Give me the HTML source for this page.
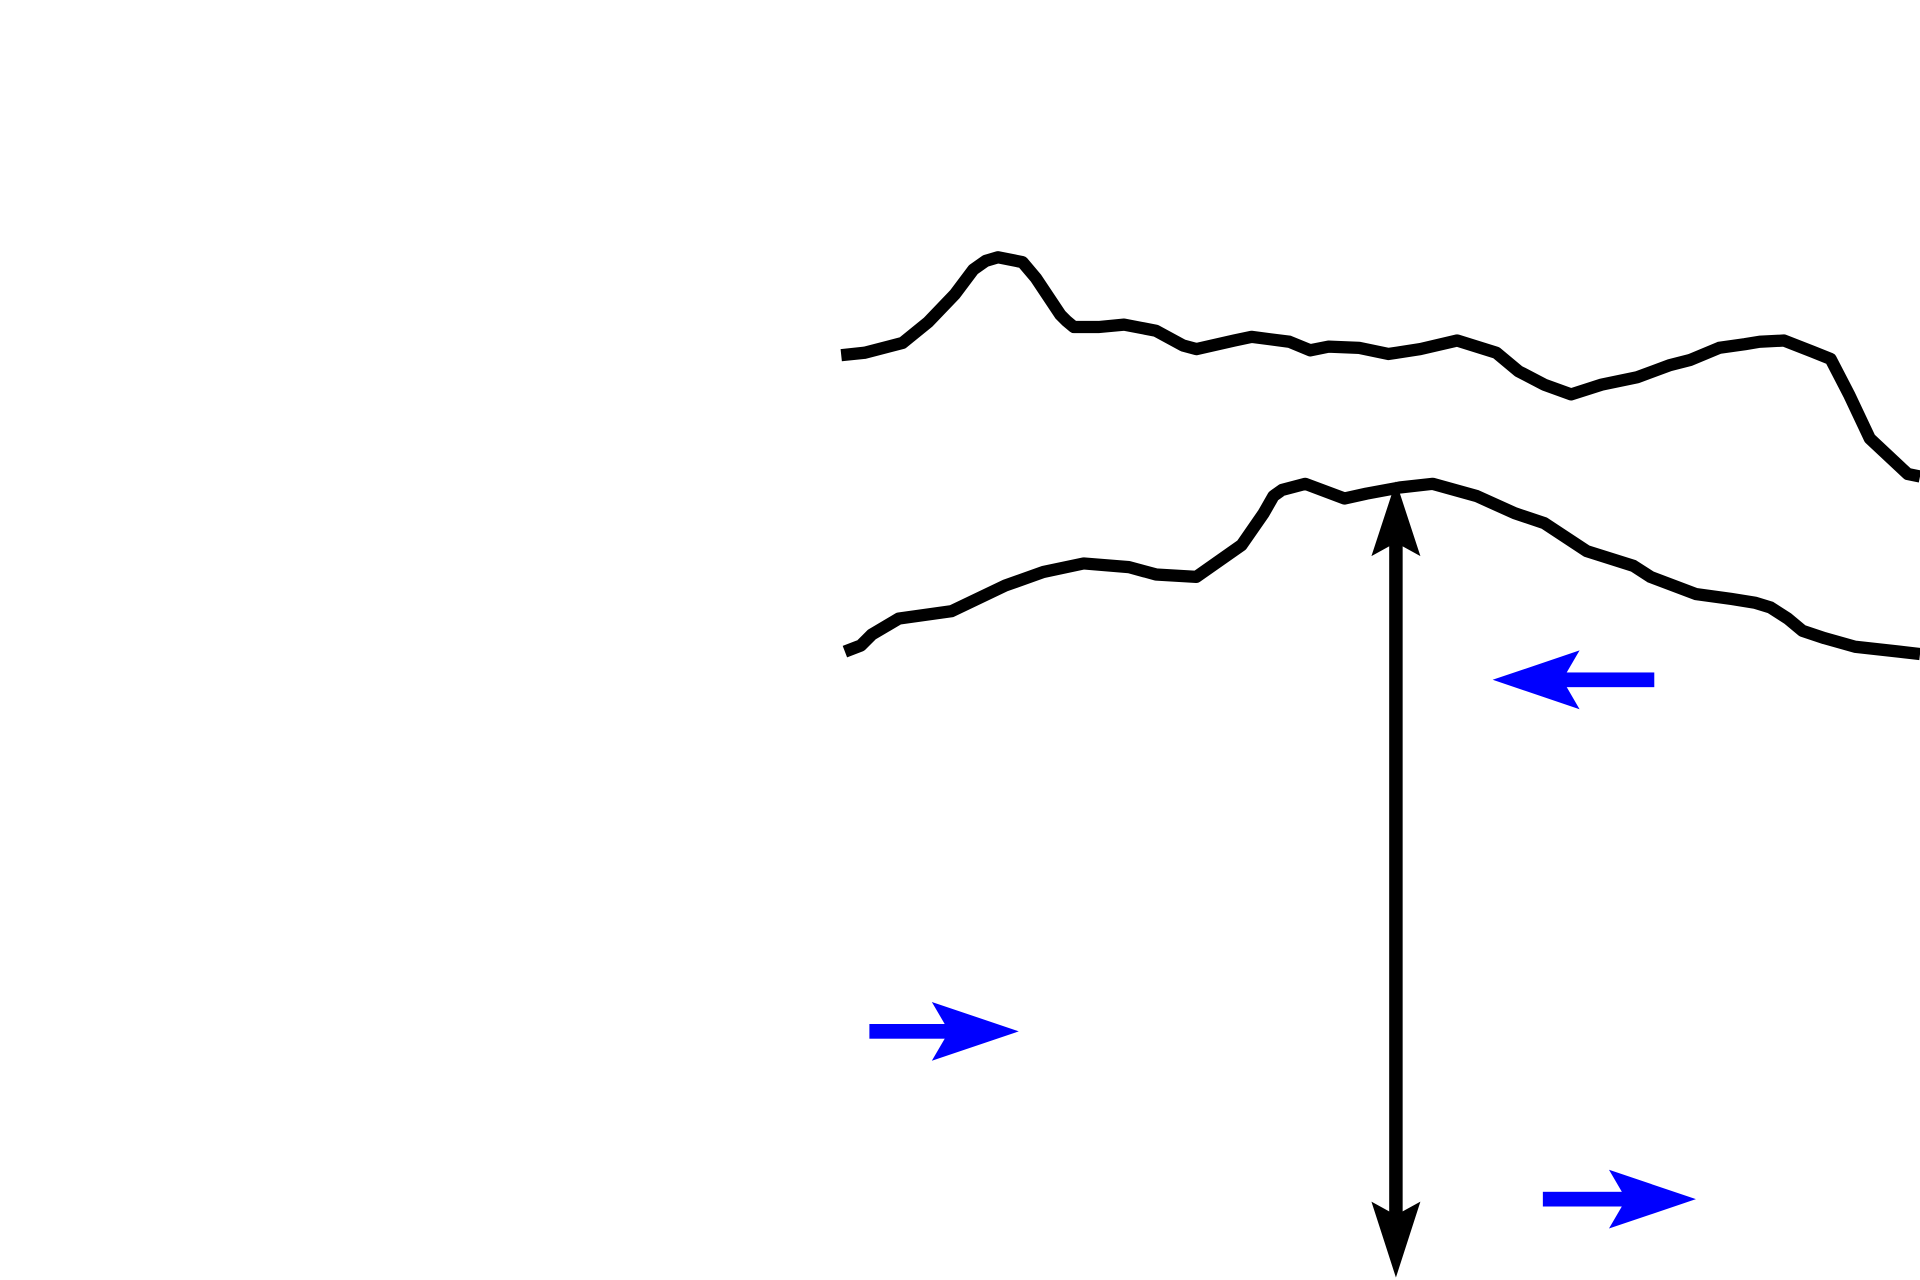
<!DOCTYPE html>
<html><head><meta charset="utf-8"><style>
html,body{margin:0;padding:0;background:#fff;}
svg{display:block;}
</style></head><body>
<svg width="1920" height="1280" viewBox="0 0 1568 1045" preserveAspectRatio="none" xmlns="http://www.w3.org/2000/svg">
<rect width="1568" height="1045" fill="#fff"/>
<g fill="none" stroke="#000" stroke-width="10" stroke-linejoin="round">
<polyline points="687,290 706,288 737,280 758,263 780,240 795,220 805,213 815,210 835,214 846,227 866,257 871,262 877,267 897,267 918,265 944,270 966,282 977,285 1008,278 1022,275 1053,279 1070,286 1085,283 1110,284 1134,289 1160,285 1190,278 1222,288 1240,303 1261,314 1283,322 1308,314 1337,308 1364,298 1380,294 1404,284 1425,281 1437,279 1457,278 1480,287 1495,293 1510,322 1527,358 1558,387 1568,389"/>
<polyline points="690,532 703,527 712,518 734,505 777,499 821,478 852,467 885,460 922,463 944,469 977,471 1014,445 1032,419 1040,405 1047,400 1066,395 1098,407 1116,403 1143,398 1170,395 1206,405 1237,419 1261,427 1296,450 1334,462 1348,471 1385,485 1414,489 1433,492 1446,496 1460,505 1472,515 1490,521 1515,528 1551,532 1568,534"/>
</g>
<line x1="1140" y1="415" x2="1140" y2="1020" stroke="#000" stroke-width="11"/>
<polygon points="1140,393 1160,454 1140,443 1120,454" fill="#000"/>
<polygon points="1140,1043 1160,981 1140,992 1120,981" fill="#000"/>
<g fill="#00f">
<rect x="1255" y="549" width="96" height="12"/>
<polygon points="1219,555 1290,531 1276,555 1290,579"/>
<rect x="710" y="836" width="90" height="12"/>
<polygon points="832,842 761,818 775,842 761,866"/>
<rect x="1260" y="973" width="90" height="12"/>
<polygon points="1385,979 1314,955 1328,979 1314,1003"/>
</g>
</svg>
</body></html>
